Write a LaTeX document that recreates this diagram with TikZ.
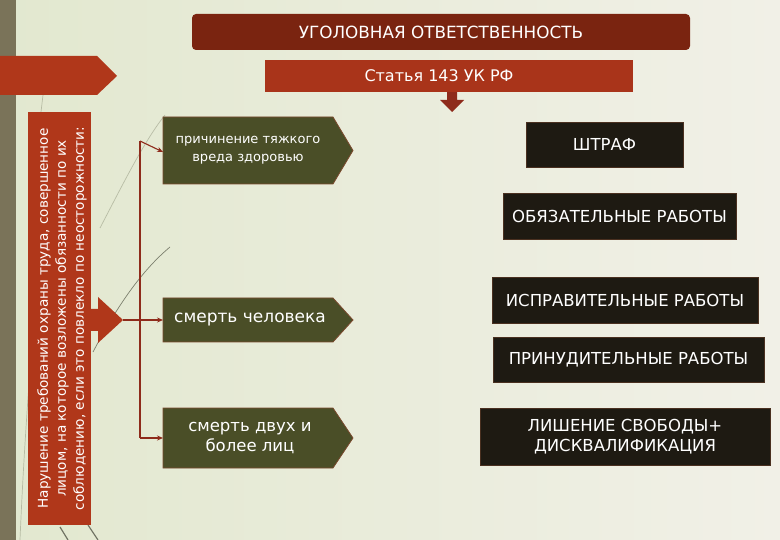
\documentclass[tikz,border=0pt]{standalone}
\usepackage{fontspec}
\setmainfont{DejaVu Sans}
\usetikzlibrary{arrows.meta,calc,backgrounds}
\definecolor{bgL}{HTML}{E2E8CF}
\definecolor{bgR}{HTML}{F1F0E7}
\definecolor{cStrip}{HTML}{7A7359}
\definecolor{cRed}{HTML}{B0371A}
\definecolor{cTitle}{HTML}{7A2410}
\definecolor{cArt}{HTML}{A9341A}
\definecolor{cGreen}{HTML}{4A4E27}
\definecolor{cGreenE}{HTML}{7B4A2E}
\definecolor{cBlack}{HTML}{1E1A12}
\definecolor{cBlackE}{HTML}{4A3020}
\definecolor{cConn}{HTML}{8E2B1B}
\definecolor{cDeco}{HTML}{8C9078}
\begin{document}
\begin{tikzpicture}[x=1pt,y=-1pt,
  wtext/.style={text=white, align=center, inner sep=0pt},
  greenbox/.style={wtext, minimum width=170pt, minimum height=#1},
  blackbox/.style={wtext, fill=cBlack, draw=cBlackE, line width=0.8pt, minimum width=#1, font=\fontsize{16.5}{20}\selectfont},
  greenshape/.style={fill=cGreen, draw=cGreenE, line width=0.8pt},
  conn/.style={draw=cConn, line width=1.1pt},
  connA/.style={conn, -{Stealth[length=6pt,width=5pt]}},
  deco/.style={draw=cDeco, line width=0.7pt, opacity=0.5}
]
\useasboundingbox (0,0) rectangle (780,540);
% nodes
\node[wtext, fill=cTitle, rounded corners=4pt, minimum width=498pt, minimum height=36pt,
      font=\fontsize{16.8}{20}\selectfont] (title) at (441,32) {УГОЛОВНАЯ ОТВЕТСТВЕННОСТЬ};
\node[wtext, fill=cArt, minimum width=368pt, minimum height=32pt,
      font=\fontsize{16}{20}\selectfont] (art) at (449,76) {Статья 143 УК РФ\hspace*{20pt}};
\node[fill=cRed, minimum width=63pt, minimum height=413pt, inner sep=0pt] (viol) at (59.5,318.5) {};
\node[wtext, rotate=90, font=\fontsize{13.6}{18}\selectfont] (violtext) at (62,318.5)
  {Нарушение требований охраны труда, совершенное\\лицом, на которое возложены обязанности по их\\соблюдению, если это повлекло по неосторожности:};
\node[greenbox=67pt, font=\fontsize{13}{18}\selectfont] (g1) at (248,150.5) {причинение тяжкого\\вреда здоровью};
\node[greenbox=44pt, font=\fontsize{17}{20}\selectfont] (g2) at (250,320) {смерть человека};
\node[greenbox=60pt, font=\fontsize{16.5}{20}\selectfont] (g3) at (250,438) {смерть двух и\\более лиц};
\node[blackbox=157pt, minimum height=45pt] (b1) at (604.5,144.5) {ШТРАФ};
\node[blackbox=233pt, minimum height=46pt] (b2) at (619.5,216) {ОБЯЗАТЕЛЬНЫЕ РАБОТЫ};
\node[blackbox=266pt, minimum height=46pt] (b3) at (625,300) {ИСПРАВИТЕЛЬНЫЕ РАБОТЫ};
\node[blackbox=271pt, minimum height=45pt] (b4) at (628.5,359.5) {ПРИНУДИТЕЛЬНЫЕ РАБОТЫ};
\node[blackbox=290pt, minimum height=57pt] (b5) at (625,436.5) {ЛИШЕНИЕ СВОБОДЫ+\\ДИСКВАЛИФИКАЦИЯ};
\begin{scope}[on background layer]
  \shade[left color=bgL, right color=bgR] (0,0) rectangle (780,540);
  % decorative background lines
  \draw[deco] (100,228) .. controls (125,180) and (145,140) .. (165,115);
  \draw[deco, draw=cDeco!70!black, opacity=0.8] (93,352) .. controls (115,310) and (140,272) .. (170,247);
  \draw[deco] (20,540) .. controls (25,420) and (35,300) .. (45,190);
  \draw[deco] (43,95) -- (41,112);
  \draw[deco, draw=cDeco!60!black, opacity=0.8, line width=1.2pt] (60,527) -- (68,540);
  \draw[deco, draw=cDeco!60!black, opacity=0.8, line width=1.2pt] (88,525) -- (98,540);
  % left strip
  \fill[cStrip] (0,0) rectangle (16,540);
  % top-left arrow
  \fill[cRed] (0,56) -- (97,56) -- (117,76) -- (97,95) -- (0,95) -- cycle;
  % arrow from violation box
  \coordinate (rtip) at (123,320);
  \fill[cRed] (viol.east |- 0,309) -- (98,309) -- (98,297) -- (rtip) -- (98,343) -- (98,331) -- (viol.east |- 0,331) -- cycle;
  % down arrow under article box
  \fill[cConn] (447,92) -- (457,92) -- (457,100) -- (464,100) -- (452,112) -- (440,100) -- (447,100) -- cycle;
  % green pentagons
  \draw[greenshape] (163,117) -- (333,117) -- (353,150.5) -- (333,184) -- (163,184) -- cycle;
  \draw[greenshape] (163,298) -- (333,298) -- (353,320) -- (333,342) -- (163,342) -- cycle;
  \draw[greenshape] (163,408) -- (333,408) -- (353,438) -- (333,468) -- (163,468) -- cycle;
\end{scope}
% connectors
\coordinate (jt) at (140,141);
\coordinate (jb) at (140,438);
\coordinate (e1) at (163,152);
\coordinate (e2) at (163,320);
\coordinate (e3) at (163,438);
\draw[conn] (jt) -- (jb);
\draw[connA] (jt) -- (e1);
\draw[connA] (rtip) -- (e2);
\draw[connA] (jb) -- (e3);
\end{tikzpicture}
\end{document}
